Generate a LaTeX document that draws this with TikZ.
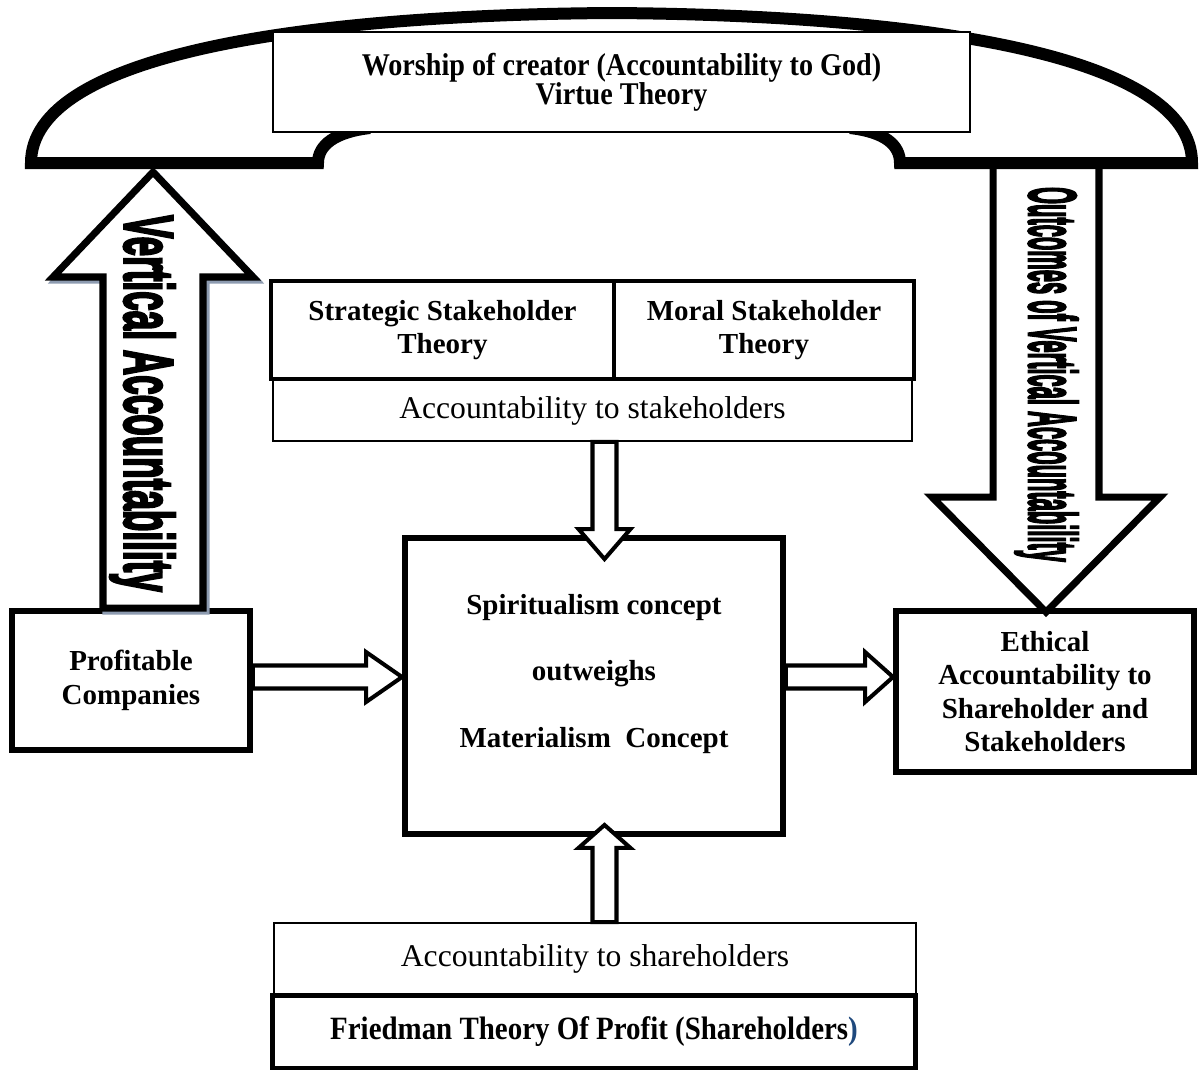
\documentclass[tikz,border=0pt]{standalone}
\usepackage{fontspec}
\setmainfont{Liberation Serif}
\setsansfont{Liberation Sans}
\newfontfamily\narrowserif[FakeStretch=0.89]{Liberation Serif}
\newfontfamily\wordartfont[FakeBold=4]{Liberation Sans}
\usepackage{graphicx}
\usetikzlibrary{calc}

\def\archline{(370,128) .. controls (335,132) and (318,145) .. (318,163) -- (31,163)
  .. controls (31,55) and (300,15) .. (612,13) .. controls (924,15) and (1192,55) .. (1192,163)
  -- (900,163) .. controls (900,145) and (885,132) .. (850,128)}
\newcommand{\boldfont}{\fontsize{16.5}{19}\selectfont\bfseries}
\newcommand{\godfont}{\narrowserif\fontsize{18}{16.5}\selectfont\bfseries}
\newcommand{\friedmanfont}{\narrowserif\fontsize{18.5}{20}\selectfont\bfseries}
\newcommand{\conceptfont}{\fontsize{16.5}{38}\selectfont\bfseries}
\newcommand{\plainfont}{\fontsize{18}{20}\selectfont}
% #2 start, #3 tip, #4 half shaft, #5 half head, #6 head length
\newcommand{\blockarrow}[6][]{%
  \coordinate (ba-base) at ($(#3)!#6!(#2)$);
  \draw[#1] ($(#2)!#4!90:(#3)$) -- ($(ba-base)!#4!-90:(#2)$) -- ($(ba-base)!#5!-90:(#2)$)
    -- (#3) -- ($(ba-base)!#5!90:(#2)$) -- ($(ba-base)!#4!90:(#2)$) -- ($(#2)!#4!-90:(#3)$) -- cycle;
}
\definecolor{shadowgrey}{RGB}{141,155,176}
\definecolor{parenblue}{RGB}{31,73,125}
\tikzset{
  thinbox/.style={draw, fill=white, line width=1.1pt, inner sep=0pt, align=center},
  heavybox/.style={draw, fill=white, line width=3.4pt, inner sep=0pt, align=center},
  stakebox/.style={draw, fill=white, line width=2.3pt, inner sep=0pt, align=center},
  bigarrow/.style={draw, fill=white, line width=4pt, line join=miter},
  smallarrow/.style={draw, fill=white, line width=2.3pt, line join=miter}
  }
\tikzstyle{wordart}=[rotate=-90, inner sep=0pt, font=\wordartfont\bfseries]

\begin{document}
\begin{tikzpicture}[x=0.02cm, y=-0.02cm]
   \useasboundingbox (0,0) rectangle (1200,1073);

   \node[thinbox, minimum width=12.84cm, minimum height=1.44cm, font=\plainfont] (acc2) at (595,959) {Accountability to shareholders};
   \node[heavybox, line width=2.8pt, minimum width=12.86cm, minimum height=1.45cm, font=\friedmanfont] (friedman) at (594,1031.75)
      {Friedman Theory Of Profit (Shareholders\textcolor{parenblue}{)}};

   \node[thinbox, minimum width=12.78cm, minimum height=1.22cm, font=\plainfont] (acc1) at (592.5,410.5) {Accountability to stakeholders};
   \node[stakebox, minimum width=6.86cm, minimum height=1.96cm, font=\boldfont] (strategic) at (442.5,330) {Strategic Stakeholder\\Theory};
   \node[stakebox, minimum width=6cm, minimum height=1.96cm, font=\boldfont] (moral) at (764,330) {Moral Stakeholder\\Theory};

   \node[heavybox, minimum width=7.56cm, minimum height=5.92cm] (centre) at (594,686) {};
   \node[align=center, font=\conceptfont] (concept) at (594,674) {Spiritualism concept\\outweighs\\Materialism~~Concept};

   \node[heavybox, minimum width=4.76cm, minimum height=2.78cm, font=\boldfont] (profit) at (131,680.5) {Profitable\\Companies};
   \node[heavybox, minimum width=5.96cm, minimum height=3.22cm, font=\boldfont] (ethic) at (1045,691.5)
      {Ethical\\Accountability to\\Shareholder and\\Stakeholders};

   % big arrows go under the arch
   \coordinate (leftfoot) at ($(profit.north)+(22,0)$);
   \coordinate (archL) at (153,172);
   \begin{scope}[transform canvas={shift={(0.06cm,-0.06cm)}}]
      \blockarrow[draw=shadowgrey, line width=4pt, line join=miter]{leftfoot}{archL}{1.0cm}{2.0cm}{2.1cm}
   \end{scope}
   \blockarrow[bigarrow]{leftfoot}{archL}{1.0cm}{2.0cm}{2.1cm}
   \node[wordart] (vertical) at (142.5,403.5) {\resizebox*{7.54cm}{1.3cm}{Vertical Accountability}};

   \coordinate (archR) at (1046,163);
   \coordinate (ethictop) at ($(ethic.north)+(1,4)$);
   \blockarrow[bigarrow]{archR}{ethictop}{1.06cm}{2.28cm}{2.3cm}
   \node[wordart] (outcomes) at (1046.5,374.5) {\resizebox*{7.5cm}{1.26cm}{Outcomes of Vertical Accountability}};

   \draw[line width=0.24cm, line join=miter] \archline;
   \node[thinbox, minimum width=13.94cm, minimum height=2cm, font=\godfont] (god) at (621.5,82)
      {Worship of creator (Accountability to God)\\Virtue Theory};

   \coordinate (p2c) at ($(profit.east)+(0,-3.5)$);
   \blockarrow[smallarrow]{p2c}{centre.west |- p2c}{0.23cm}{0.5cm}{0.72cm}
   \coordinate (c2e) at (centre.east |- p2c);
   \blockarrow[smallarrow]{c2e}{ethic.west |- p2c}{0.23cm}{0.5cm}{0.56cm}

   \coordinate (a1s) at ($(acc1.south)+(12,0)$);
   \coordinate (a1t) at ($(centre.north -| a1s)+(0,24)$);
   \blockarrow[smallarrow]{a1s}{a1t}{0.24cm}{0.52cm}{0.6cm}
   \coordinate (a2s) at (acc2.north -| a1s);
   \coordinate (a2t) at ($(centre.south -| a1s)+(0,-12)$);
   \blockarrow[smallarrow]{a2s}{a2t}{0.24cm}{0.52cm}{0.46cm}
\end{tikzpicture}
\end{document}
